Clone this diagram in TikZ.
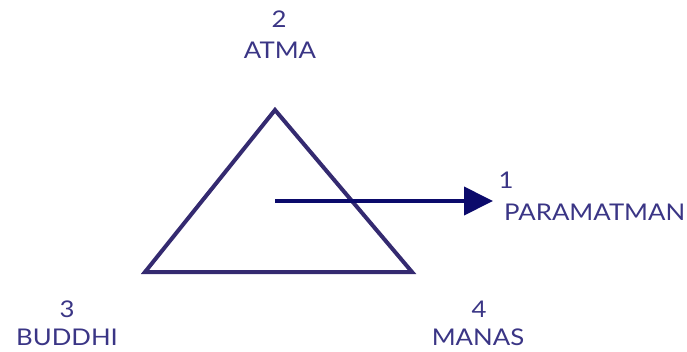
\documentclass[tikz,border=0pt]{standalone}
\usepackage{fontspec}
\setmainfont{Lato}[FakeStretch=1.12]
\usetikzlibrary{arrows.meta}
\definecolor{txt}{HTML}{3A3585}
\definecolor{tri}{HTML}{342A70}
\definecolor{arr}{HTML}{0B0A6B}
\tikzset{
  lbl/.style={text=txt, font=\fontsize{23}{27}\selectfont, inner sep=0pt, anchor=center},
  edge/.style={draw=tri, line width=4pt, line join=miter},
  pointer/.style={draw=arr, line width=4pt, -{Triangle[length=29pt,width=28pt]}}
}
\begin{document}
\begin{tikzpicture}[x=1pt,y=-1pt]
\useasboundingbox (0,0) rectangle (687,351);
\coordinate (top) at (275,110);
\coordinate (bl) at (145,272);
\coordinate (br) at (412,272);
\coordinate (start) at (275,201);
\coordinate (tip) at (493,201);
\draw[edge] (top) -- (bl) -- (br) -- cycle;
\draw[pointer] (start) -- (tip);
\node[lbl] (n2) at (279,19) {2};
\node[lbl] (atma) at (280,50) {ATMA};
\node[lbl] (n1) at (506,180) {1};
\node[lbl, anchor=west] (param) at (504,212) {PARAMATMAN};
\node[lbl] (n3) at (67,309) {3};
\node[lbl] (buddhi) at (67,337) {BUDDHI};
\node[lbl] (n4) at (479,309) {4};
\node[lbl] (manas) at (478,337) {MANAS};
\end{tikzpicture}
\end{document}
